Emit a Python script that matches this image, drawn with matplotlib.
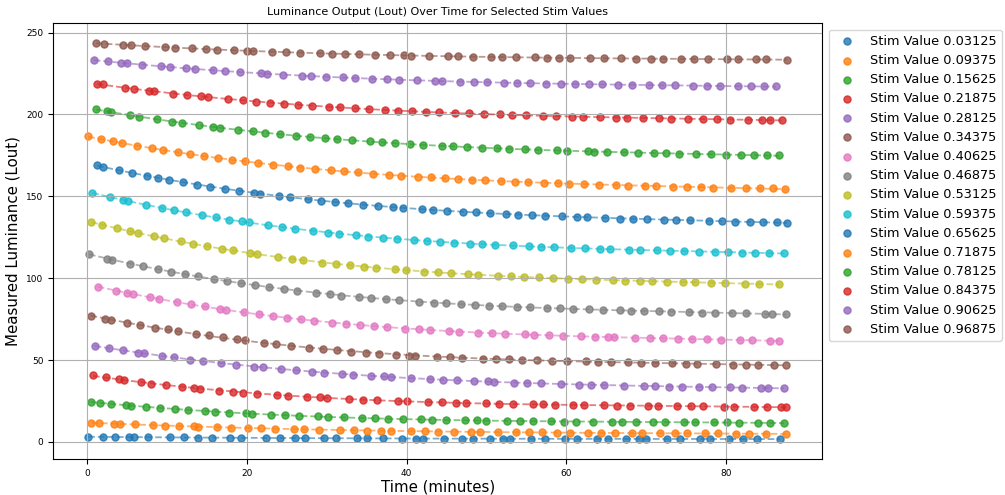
import numpy as np
import matplotlib.pyplot as plt

stim_values = [0.03125, 0.09375, 0.15625, 0.21875, 0.28125, 0.34375, 0.40625, 0.46875,
               0.53125, 0.59375, 0.65625, 0.71875, 0.78125, 0.84375, 0.90625, 0.96875]

time_0 = [0.1, 1.9, 3.5, 5.2, 5.8, 7.6, 10.3, 12.1, 13.9, 15.6, 17.9, 19.2, 22.4, 24.1, 26.0, 27.3,
          29.6, 31.2, 33.8, 35.1, 37.0, 39.4, 41.2, 42.0, 44.7, 46.9, 48.3, 50.5, 52.1, 53.0, 55.6,
          57.4, 59.8, 61.3, 63.9, 65.2, 67.5, 69.1, 70.0, 72.6, 74.3, 76.8, 78.0, 80.4, 82.2, 83.9, 86.8]
lum_0 = [3.2, 3.1, 3.1, 3.0, 2.9, 2.9, 2.8, 2.8, 2.7, 2.6, 2.6, 2.5, 2.5, 2.4, 2.4, 2.3,
         2.3, 2.3, 2.2, 2.2, 2.2, 2.1, 2.1, 2.1, 2.1, 2.0, 2.0, 2.0, 2.0, 2.0, 1.9,
         2.0, 1.9, 1.9, 1.9, 1.9, 1.9, 1.8, 1.9, 1.8, 1.9, 1.8, 1.8, 1.8, 1.8, 1.8, 1.8]

time_1 = [0.5, 1.4, 3.3, 4.1, 6.0, 8.2, 9.7, 11.5, 13.3, 13.9, 16.2, 18.0, 20.1, 21.7, 23.5, 25.9,
          27.2, 29.0, 31.6, 33.4, 35.0, 36.8, 38.1, 40.6, 42.3, 44.0, 45.9, 48.1, 49.2, 51.4, 53.7,
          55.3, 57.0, 58.8, 60.5, 62.7, 64.4, 66.1, 68.3, 69.5, 71.8, 73.6, 75.2, 77.4, 79.0, 81.3,
          82.9, 85.1, 87.5]
lum_1 = [11.8, 11.6, 11.2, 11.0, 10.7, 10.3, 10.0, 9.7, 9.5, 9.4, 9.0, 8.8, 8.5, 8.4, 8.1, 7.9,
         7.7, 7.6, 7.3, 7.2, 7.0, 6.9, 6.8, 6.7, 6.5, 6.4, 6.3, 6.2, 6.2, 6.1, 5.9,
         5.9, 5.8, 5.7, 5.7, 5.6, 5.5, 5.5, 5.4, 5.4, 5.3, 5.3, 5.2, 5.2, 5.2, 5.1,
         5.1, 5.0, 5.0]

time_2 = [0.4, 1.6, 2.9, 4.8, 5.5, 7.3, 9.1, 11.0, 12.6, 14.8, 16.0, 17.7, 19.9, 20.6, 23.0, 24.8,
          26.5, 28.9, 30.2, 32.1, 34.4, 36.0, 37.7, 39.5, 41.8, 43.2, 45.0, 47.3, 48.8, 50.0, 52.6,
          54.2, 55.9, 58.1, 59.7, 61.2, 63.4, 65.8, 67.0, 68.7, 70.9, 72.4, 74.8, 76.1, 78.5, 80.2,
          81.7, 84.0, 85.6, 87.3]
lum_2 = [24.6, 24.0, 23.4, 22.5, 22.2, 21.4, 20.7, 20.0, 19.5, 18.8, 18.4, 18.0, 17.4, 17.2, 16.7, 16.3,
         16.0, 15.6, 15.3, 15.1, 14.7, 14.5, 14.3, 14.1, 13.8, 13.7, 13.5, 13.3, 13.2, 13.1, 12.9,
         12.8, 12.7, 12.6, 12.5, 12.5, 12.4, 12.3, 12.2, 12.2, 12.1, 12.1, 12.0, 11.9, 11.9, 11.9,
         11.8, 11.8, 11.7, 11.7]

time_3 = [0.7, 2.3, 3.9, 4.6, 6.7, 8.0, 9.9, 11.8, 13.4, 14.1, 16.5, 18.3, 19.5, 21.2, 23.8, 25.1,
          27.5, 29.2, 30.0, 32.8, 34.6, 36.3, 38.9, 40.1, 42.7, 44.4, 46.2, 47.5, 49.9, 51.6, 53.3,
          55.8, 57.1, 58.6, 60.9, 62.3, 64.7, 66.4, 68.0, 70.2, 71.5, 73.9, 75.6, 77.2, 79.8, 81.0,
          83.5, 85.2, 86.9, 87.6]
lum_3 = [40.7, 39.5, 38.3, 37.9, 36.5, 35.7, 34.6, 33.6, 32.8, 32.5, 31.4, 30.7, 30.2, 29.6, 28.7, 28.3,
         27.6, 27.2, 27.0, 26.3, 25.9, 25.6, 25.1, 24.9, 24.5, 24.3, 24.0, 23.9, 23.6, 23.4, 23.2,
         23.0, 22.9, 22.8, 22.6, 22.5, 22.3, 22.2, 22.1, 22.0, 22.0, 21.9, 21.8, 21.7, 21.6, 21.6,
         21.5, 21.5, 21.4, 21.4]

time_4 = [0.9, 2.7, 4.4, 6.3, 7.1, 9.4, 10.8, 12.9, 14.5, 16.8, 18.6, 20.9, 22.0, 24.3, 26.2, 28.1,
          29.7, 31.9, 33.3, 35.6, 37.2, 38.0, 40.5, 42.9, 44.6, 46.3, 48.4, 50.2, 51.0, 53.5, 55.1,
          56.9, 59.3, 61.6, 63.1, 64.8, 67.2, 69.7, 71.1, 72.9, 74.5, 76.7, 78.3, 80.6, 82.1, 84.4,
          85.3, 87.3]
lum_4 = [58.9, 57.4, 56.1, 54.6, 54.1, 52.5, 51.6, 50.3, 49.3, 48.1, 47.1, 46.0, 45.5, 44.5, 43.7, 43.0,
         42.4, 41.6, 41.2, 40.5, 40.0, 39.8, 39.1, 38.5, 38.1, 37.7, 37.3, 37.0, 36.8, 36.3, 36.0,
         35.8, 35.4, 35.1, 34.9, 34.7, 34.4, 34.1, 34.0, 33.8, 33.7, 33.5, 33.4, 33.3, 33.2, 33.1,
         33.1, 33.0]

time_5 = [0.4, 2.2, 3.0, 4.9, 6.6, 8.5, 10.1, 11.4, 13.6, 15.3, 17.0, 18.7, 19.8, 22.1, 23.6, 25.5,
          27.8, 29.5, 31.3, 33.0, 34.9, 36.5, 38.7, 40.3, 41.1, 43.8, 45.5, 47.0, 49.6, 51.2, 52.8,
          54.5, 56.3, 58.2, 60.1, 62.5, 64.0, 65.6, 67.8, 69.4, 71.2, 73.3, 75.0, 76.4, 78.8, 80.9,
          82.5, 84.1, 86.0, 87.5]
lum_5 = [76.9, 75.2, 74.4, 72.8, 71.4, 69.9, 68.7, 67.7, 66.2, 65.1, 64.1, 62.8, 62.1, 60.7, 59.8, 58.8,
         57.5, 56.7, 55.9, 55.2, 54.5, 54.0, 53.3, 52.8, 52.7, 52.0, 51.7, 51.4, 50.9, 50.7, 50.4,
         50.2, 50.0, 49.7, 49.5, 49.3, 49.1, 48.9, 48.7, 48.5, 48.3, 48.1, 47.9, 47.8, 47.5, 47.3,
         47.2, 47.1, 46.9, 46.8]

time_6 = [1.3, 3.6, 5.0, 5.7, 7.8, 9.0, 11.2, 13.0, 14.7, 16.6, 17.4, 19.6, 21.5, 23.2, 25.0, 26.8,
          28.4, 30.7, 32.4, 34.2, 35.9, 37.6, 39.8, 41.5, 43.0, 45.3, 46.6, 48.9, 50.7, 52.3, 54.9,
          56.0, 57.8, 59.6, 61.9, 63.6, 65.3, 66.0, 68.6, 70.5, 72.1, 74.0, 75.8, 77.7, 79.4, 81.8,
          83.3, 85.5, 86.7]
lum_6 = [94.9, 92.3, 90.9, 90.2, 88.3, 87.3, 85.5, 84.1, 82.8, 81.5, 80.8, 79.3, 78.0, 77.0, 75.9, 74.9,
         74.0, 72.8, 72.0, 71.3, 70.6, 70.0, 69.2, 68.7, 68.3, 67.7, 67.3, 66.8, 66.5, 66.2, 65.7,
         65.5, 65.2, 64.9, 64.6, 64.4, 64.2, 64.1, 63.8, 63.5, 63.3, 63.1, 62.9, 62.6, 62.5, 62.2,
         62.1, 61.9, 61.8]

time_7 = [0.2, 2.4, 3.1, 5.4, 7.0, 8.8, 10.5, 12.2, 13.8, 15.9, 17.5, 19.3, 21.0, 22.7, 24.6, 26.3,
          28.7, 30.4, 31.8, 34.0, 35.5, 37.4, 39.1, 41.6, 43.5, 44.9, 46.8, 48.6, 50.3, 52.0, 53.9,
          55.5, 57.6, 59.2, 60.8, 62.9, 64.6, 66.7, 68.1, 69.8, 71.6, 73.1, 75.4, 77.0, 78.7, 80.8,
          82.6, 84.9, 85.8, 87.6]
lum_7 = [114.5, 112.0, 111.3, 108.8, 107.3, 105.6, 104.1, 102.6, 101.3, 99.7, 98.4, 97.0, 95.8, 94.7,
         93.4, 92.5, 91.1, 90.2, 89.4, 88.4, 87.8, 87.1, 86.4, 85.6, 85.0, 84.7, 84.1, 83.7, 83.3,
         83.0, 82.7, 82.3, 82.0, 81.6, 81.4, 81.2, 80.9, 80.5, 80.2, 79.9, 79.7, 79.5, 79.2, 79.0,
         78.8, 78.6, 78.5, 78.3, 78.2, 78.1]

time_8 = [0.5, 1.8, 3.7, 5.3, 6.4, 8.3, 9.6, 11.7, 13.2, 15.0, 16.9, 18.2, 20.4, 21.3, 23.9, 25.7,
          27.0, 29.4, 31.1, 32.9, 34.7, 36.2, 38.5, 39.9, 42.2, 43.9, 45.6, 47.7, 49.0, 51.5, 53.1,
          54.7, 56.6, 58.4, 60.2, 62.0, 63.7, 65.9, 67.4, 69.2, 70.8, 72.7, 74.6, 76.2, 78.1, 79.9,
          82.4, 84.2, 86.7]
lum_8 = [134.2, 132.6, 130.5, 128.7, 127.5, 125.6, 124.4, 122.5, 121.1, 119.7, 118.0, 117.1, 115.4,
         114.7, 112.9, 111.8, 110.9, 109.5, 108.7, 107.8, 107.0, 106.4, 105.5, 104.9, 104.1, 103.6,
         103.1, 102.5, 102.1, 101.6, 101.2, 100.8, 100.5, 100.1, 99.7, 99.5, 99.1, 98.8, 98.6, 98.4,
         98.2, 97.9, 97.7, 97.4, 97.2, 97.0, 96.7, 96.6, 96.3]

time_9 = [0.6, 2.8, 4.5, 5.1, 7.4, 9.3, 10.9, 12.4, 14.3, 16.1, 17.8, 19.4, 20.2, 22.6, 24.4, 26.0,
          28.3, 30.1, 31.5, 33.7, 35.2, 37.1, 38.8, 40.9, 42.5, 44.2, 46.0, 48.0, 49.5, 51.1, 53.3,
          55.4, 56.8, 58.5, 60.6, 62.4, 64.2, 65.5, 67.9, 69.3, 71.4, 73.0, 74.8, 76.6, 78.6, 80.3,
          82.0, 83.7, 85.4, 87.3]
lum_9 = [152.1, 149.5, 147.7, 147.0, 144.7, 142.9, 141.4, 140.2, 138.6, 137.2, 135.8, 134.9, 134.3,
         132.5, 131.3, 130.3, 128.9, 127.9, 127.2, 126.1, 125.3, 124.5, 123.9, 123.1, 122.7, 122.2,
         121.6, 121.2, 120.8, 120.5, 120.0, 119.6, 119.3, 119.0, 118.6, 118.4, 118.1, 117.9, 117.4,
         117.2, 117.0, 116.7, 116.5, 116.3, 116.0, 115.9, 115.7, 115.6, 115.4, 115.2]

time_10 = [1.2, 2.0, 4.0, 5.6, 7.5, 8.9, 10.2, 12.0, 13.7, 15.4, 17.2, 19.0, 20.9, 21.6, 24.0, 25.4,
           27.6, 29.3, 31.0, 32.6, 34.5, 36.4, 38.3, 39.6, 41.9, 43.3, 45.1, 47.1, 48.7, 50.4, 52.5,
           54.0, 55.7, 57.3, 59.5, 61.4, 62.6, 64.9, 66.8, 68.4, 70.1, 72.3, 73.8, 75.5, 77.9, 79.5,
           81.2, 83.0, 84.7, 86.4, 87.7]
lum_10 = [169.0, 168.1, 165.9, 164.3, 162.5, 161.2, 160.0, 158.5, 157.1, 155.8, 154.5, 153.3, 152.1,
          151.6, 150.2, 149.4, 148.2, 147.4, 146.6, 145.8, 145.0, 144.3, 143.5, 143.1, 142.3, 141.8,
          141.3, 140.7, 140.2, 139.8, 139.3, 138.9, 138.5, 138.2, 137.7, 137.4, 137.2, 136.8, 136.4,
          136.2, 136.0, 135.7, 135.5, 135.3, 135.0, 134.8, 134.6, 134.4, 134.3, 134.1, 134.0]

time_11 = [0.1, 1.7, 3.2, 4.3, 6.2, 8.1, 9.5, 11.3, 12.8, 14.6, 16.4, 18.1, 19.7, 21.4, 23.3, 25.2,
           26.7, 28.5, 30.5, 32.2, 33.9, 35.8, 37.8, 39.3, 41.4, 43.1, 44.8, 46.5, 48.2, 49.8, 51.8,
           53.6, 55.2, 57.2, 59.0, 60.4, 62.2, 64.1, 66.3, 67.7, 69.9, 71.3, 73.4, 75.1, 76.9, 78.4,
           80.7, 82.5, 84.3, 85.9, 87.4]
lum_11 = [186.7, 185.1, 183.6, 182.6, 180.9, 179.3, 178.2, 176.8, 175.7, 174.4, 173.3, 172.2, 171.3,
          170.3, 169.3, 168.3, 167.6, 166.8, 165.9, 165.2, 164.6, 163.9, 163.2, 162.7, 162.1, 161.6,
          161.1, 160.7, 160.2, 159.9, 159.4, 159.0, 158.7, 158.3, 158.0, 157.8, 157.5, 157.2, 156.8,
          156.6, 156.3, 156.2, 155.9, 155.8, 155.5, 155.4, 155.2, 155.0, 154.9, 154.8, 154.6]

time_12 = [1.1, 2.5, 3.0, 5.3, 6.5, 8.7, 10.6, 11.9, 14.0, 15.8, 16.6, 18.9, 20.7, 22.3, 24.2, 26.1,
           27.9, 29.8, 31.3, 33.1, 35.4, 36.9, 38.6, 40.4, 42.0, 44.5, 45.8, 47.6, 49.4, 51.3, 52.9,
           54.8, 56.5, 58.9, 60.1, 62.8, 63.5, 65.1, 67.3, 69.0, 71.0, 72.5, 74.2, 76.3, 78.2, 80.0,
           81.9, 83.6, 85.2, 86.7]
lum_12 = [203.2, 202.0, 201.5, 199.6, 198.6, 197.0, 195.6, 194.7, 193.3, 192.3, 191.8, 190.5, 189.6,
          188.8, 187.8, 187.0, 186.3, 185.5, 184.9, 184.3, 183.5, 183.0, 182.5, 182.0, 181.5, 180.9,
          180.6, 180.2, 179.8, 179.4, 179.1, 178.7, 178.4, 178.0, 177.8, 177.4, 177.3, 177.1, 176.8,
          176.6, 176.4, 176.2, 176.0, 175.8, 175.6, 175.5, 175.3, 175.2, 175.1, 175.0]

time_13 = [1.2, 1.9, 4.7, 5.9, 7.7, 8.4, 10.7, 12.5, 14.2, 15.1, 17.6, 19.5, 21.1, 22.9, 24.7, 26.4,
           28.2, 30.3, 31.7, 33.6, 35.3, 37.3, 38.9, 40.7, 42.4, 44.1, 46.1, 47.8, 49.7, 51.7, 53.2,
           55.0, 57.1, 58.7, 60.7, 62.1, 64.3, 66.2, 67.6, 69.6, 71.7, 73.2, 75.3, 77.1, 78.9, 80.5,
           82.8, 84.6, 85.5, 87.0]
lum_13 = [218.8, 218.3, 216.3, 215.6, 214.5, 214.1, 212.8, 211.8, 211.0, 210.5, 209.4, 208.6, 207.9,
          207.2, 206.5, 206.0, 205.3, 204.7, 204.3, 203.8, 203.3, 202.8, 202.4, 202.0, 201.7, 201.3,
          200.9, 200.6, 200.3, 200.0, 199.7, 199.5, 199.2, 199.0, 198.7, 198.6, 198.3, 198.1, 198.0,
          197.8, 197.6, 197.5, 197.3, 197.2, 197.0, 196.9, 196.8, 196.7, 196.6, 196.5]

time_14 = [0.8, 2.6, 4.2, 5.0, 6.8, 9.2, 10.4, 12.3, 13.5, 15.7, 17.3, 19.1, 21.8, 22.5, 24.5, 26.9,
           28.0, 29.9, 32.0, 33.5, 35.7, 37.5, 39.0, 41.3, 43.6, 44.4, 46.7, 48.5, 50.1, 52.2, 53.8,
           55.5, 57.5, 59.4, 61.1, 62.9, 64.5, 66.5, 68.2, 70.4, 72.0, 73.7, 75.9, 77.6, 79.3, 81.5,
           83.2, 84.8, 86.3]
lum_14 = [233.3, 232.4, 231.6, 231.2, 230.4, 229.4, 228.9, 228.1, 227.7, 226.9, 226.4, 225.8, 225.1,
          224.9, 224.3, 223.7, 223.4, 223.0, 222.6, 222.3, 221.9, 221.5, 221.3, 220.9, 220.6, 220.4,
          220.1, 219.9, 219.7, 219.5, 219.3, 219.1, 218.9, 218.7, 218.6, 218.4, 218.3, 218.2, 218.0,
          217.9, 217.8, 217.7, 217.6, 217.5, 217.4, 217.3, 217.2, 217.1, 217.1]

time_15 = [1.1, 2.1, 4.5, 5.5, 7.2, 9.7, 11.0, 13.1, 14.9, 16.3, 18.4, 20.0, 20.8, 23.1, 24.9, 26.6,
           29.1, 30.6, 32.3, 34.1, 36.1, 37.9, 39.7, 40.5, 42.8, 45.2, 46.4, 48.3, 50.6, 51.9, 53.7,
           56.1, 57.6, 59.1, 60.5, 63.0, 64.7, 66.9, 68.8, 70.6, 72.2, 74.4, 76.0, 77.8, 80.1, 81.6,
           83.8, 85.0, 87.7]
lum_15 = [243.6, 243.2, 242.5, 242.2, 241.8, 241.1, 240.8, 240.3, 239.9, 239.6, 239.1, 238.8, 238.7,
          238.3, 238.0, 237.8, 237.4, 237.2, 236.9, 236.7, 236.5, 236.3, 236.1, 236.0, 235.8, 235.6,
          235.5, 235.3, 235.1, 235.1, 234.9, 234.8, 234.7, 234.6, 234.5, 234.4, 234.3, 234.2, 234.1,
          234.0, 234.0, 233.9, 233.8, 233.8, 233.7, 233.7, 233.6, 233.6, 233.5]

times = [time_0, time_1, time_2, time_3, time_4, time_5, time_6, time_7,
         time_8, time_9, time_10, time_11, time_12, time_13, time_14, time_15]
lums = [lum_0, lum_1, lum_2, lum_3, lum_4, lum_5, lum_6, lum_7,
        lum_8, lum_9, lum_10, lum_11, lum_12, lum_13, lum_14, lum_15]

fig = plt.figure(figsize=(10.05, 4.95), dpi=100)
ax = fig.add_axes([0.053, 0.073, 0.765, 0.88])

for i, stim in enumerate(stim_values):
    t = np.array(times[i])
    y = np.array(lums[i])
    color = f'C{i % 10}'
    ax.scatter(t, y, s=26, color=color, alpha=0.8, label=f'Stim Value {stim}')
    # smooth trend line through the measurements
    coef = np.polyfit(t, y, 3)
    tt = np.linspace(t.min(), t.max(), 200)
    ax.plot(tt, np.polyval(coef, tt), '--', color=color, alpha=0.6, lw=1.3)

ax.set_title('Luminance Output (Lout) Over Time for Selected Stim Values', fontsize=8)
ax.set_xlabel('Time (minutes)', fontsize=10.8, labelpad=1.5)
ax.set_ylabel('Measured Luminance (Lout)', fontsize=10.8)
ax.tick_params(labelsize=6.5)
ax.grid(True)
ax.legend(loc='upper left', bbox_to_anchor=(1.0, 1.0), fontsize=9.3, labelspacing=0.48)

fig.savefig('out.png', dpi=100)
